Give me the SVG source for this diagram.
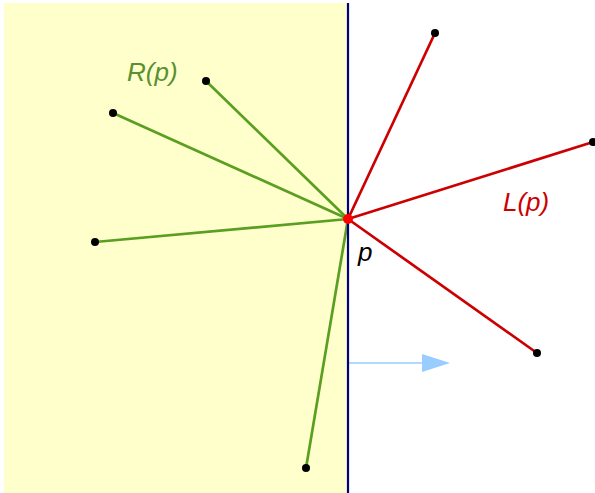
<svg xmlns="http://www.w3.org/2000/svg" width="595" height="493" viewBox="0 0 595 493">
<style>
.g{stroke:#5a9e22;stroke-width:2.7;fill:none}
.r{stroke:#cc0000;stroke-width:2.7;fill:none}
.lbl{font-family:"Liberation Sans",Arial,sans-serif;font-style:italic;font-size:26px}
</style>
<defs>
<marker id="ah" viewBox="0 0 28 18" refX="0" refY="9" markerWidth="28" markerHeight="18" markerUnits="userSpaceOnUse" orient="auto">
<path d="M0,0 L28,9 L0,18 Z" fill="#99ccff"/>
</marker>
</defs>
<rect id="halfplane" x="4" y="3" width="344" height="490" fill="#ffffcc"/>
<g id="connectors">
<line class="g" x1="348" y1="219" x2="206" y2="81"/>
<line class="g" x1="348" y1="219" x2="113" y2="113"/>
<line class="g" x1="348" y1="219" x2="95" y2="242"/>
<line class="g" x1="348" y1="219" x2="306" y2="468"/>
<line class="r" x1="348" y1="219" x2="435" y2="33"/>
<line class="r" x1="348" y1="219" x2="593" y2="142"/>
<line class="r" x1="348" y1="219" x2="537" y2="353"/>
<line x1="348" y1="363" x2="422" y2="363" stroke="#99ccff" stroke-width="1.5" marker-end="url(#ah)"/>
</g>
<line id="sweepline" x1="348" y1="3" x2="348" y2="493" stroke="#000080" stroke-width="2.2"/>
<g id="points" fill="#000">
<circle cx="206" cy="81" r="4"/>
<circle cx="113" cy="113" r="4"/>
<circle cx="95" cy="242" r="4"/>
<circle cx="306" cy="468" r="4"/>
<circle cx="435" cy="33" r="4"/>
<circle cx="593" cy="142" r="4"/>
<circle cx="537" cy="353" r="4"/>
</g>
<g id="p">
<circle cx="348" cy="219" r="5" fill="#ff0000"/>
<text class="lbl" x="358" y="261" fill="#000">p</text>
</g>
<text id="Rp" class="lbl" x="127" y="81" fill="#5a9030">R(p)</text>
<text id="Lp" class="lbl" x="503" y="211" fill="#cc0000">L(p)</text>
</svg>
